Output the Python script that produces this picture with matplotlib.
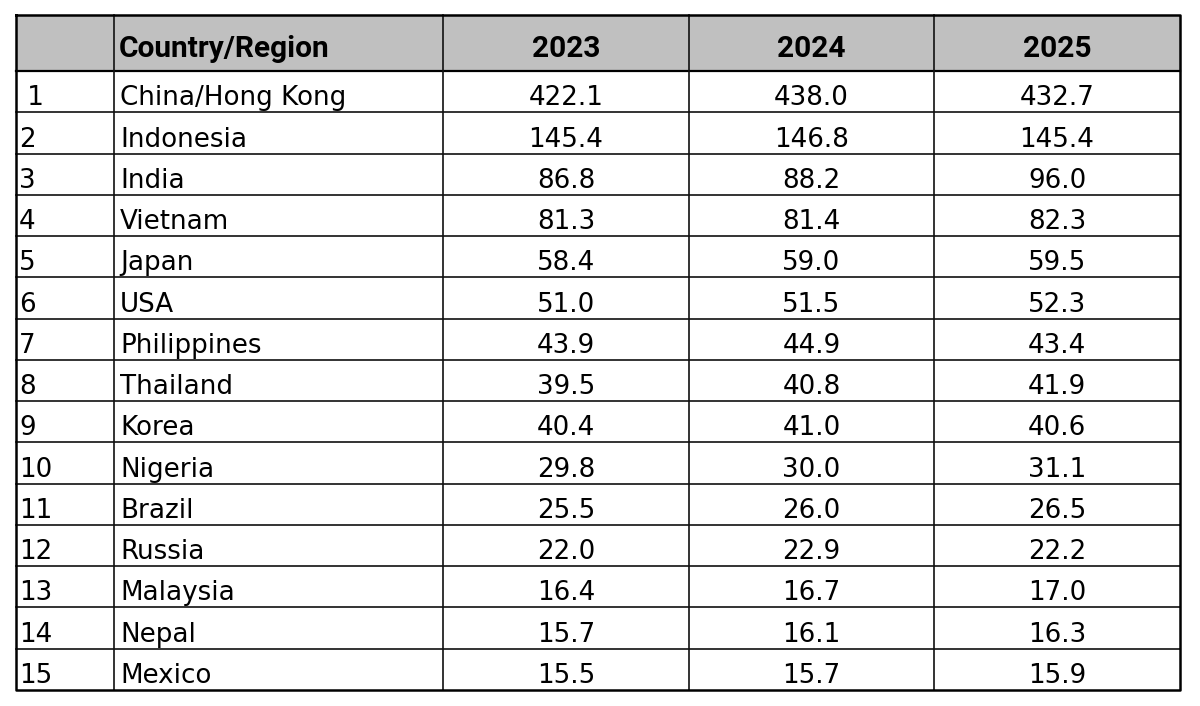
import matplotlib.pyplot as plt

plt.rcParams['font.family'] = ['DejaVu Sans']

# data
header = ['', 'Country/Region', '2023', '2024', '2025']
ranks = [' 1', '2', '3', '4', '5', '6', '7', '8', '9', '10', '11', '12', '13', '14', '15']
countries = ['China/Hong Kong', 'Indonesia', 'India', 'Vietnam', 'Japan', 'USA',
             'Philippines', 'Thailand', 'Korea', 'Nigeria', 'Brazil', 'Russia',
             'Malaysia', 'Nepal', 'Mexico']
v2023 = [422.1, 145.4, 86.8, 81.3, 58.4, 51.0, 43.9, 39.5, 40.4, 29.8, 25.5, 22.0, 16.4, 15.7, 15.5]
v2024 = [438.0, 146.8, 88.2, 81.4, 59.0, 51.5, 44.9, 40.8, 41.0, 30.0, 26.0, 22.9, 16.7, 16.1, 15.7]
v2025 = [432.7, 145.4, 96.0, 82.3, 59.5, 52.3, 43.4, 41.9, 40.6, 31.1, 26.5, 22.2, 17.0, 16.3, 15.9]

# table geometry (pixels)
col_x = [16, 114, 443, 689, 934, 1180]
top, head_bot, bot = 15, 71, 690
n = len(countries)
row_h = (bot - head_bot) / n
row_y = [head_bot + i * row_h for i in range(n + 1)]

fig = plt.figure(figsize=(12, 7.06), dpi=100)
ax = fig.add_axes([0, 0, 1, 1])
ax.set_xlim(0, 1200)
ax.set_ylim(706, 0)
ax.axis('off')

# header background
ax.fill_between([col_x[0], col_x[-1]], top, head_bot, color='#c0c0c0', lw=0)

hfs = 21.5
hfont = ['Roboto', 'DejaVu Sans']
# header text
for j, h in enumerate(header):
    if j == 1:
        ax.text(col_x[1] + 5, head_bot - 14, h, fontsize=hfs, fontweight='bold',
                family=hfont, ha='left', va='baseline')
    elif j > 1:
        ax.text((col_x[j] + col_x[j + 1]) / 2, head_bot - 14, h, fontsize=hfs,
                fontweight='bold', family=hfont, ha='center', va='baseline')

# body
fs = 18.8
for i in range(n):
    yb = row_y[i + 1] - 7
    ax.text(col_x[0] + 3, yb, ranks[i], fontsize=fs, ha='left', va='baseline')
    ax.text(col_x[1] + 6, yb, countries[i], fontsize=fs, ha='left', va='baseline')
    for j, vals in enumerate([v2023, v2024, v2025]):
        ax.text((col_x[j + 2] + col_x[j + 3]) / 2, yb, f'{vals[i]:.1f}', fontsize=fs,
                ha='center', va='baseline')

# grid lines
for y in row_y[1:-1]:
    ax.plot([col_x[0], col_x[-1]], [y, y], color='#111111', lw=1.2)
ax.plot([col_x[0], col_x[-1]], [head_bot, head_bot], color='black', lw=1.6)
for x in col_x[1:-1]:
    ax.plot([x, x], [top, bot], color='#111111', lw=1.2)
ax.plot([col_x[0], col_x[-1], col_x[-1], col_x[0], col_x[0]],
        [top, top, bot, bot, top], color='black', lw=1.8)

plt.savefig('out.png', dpi=100)
